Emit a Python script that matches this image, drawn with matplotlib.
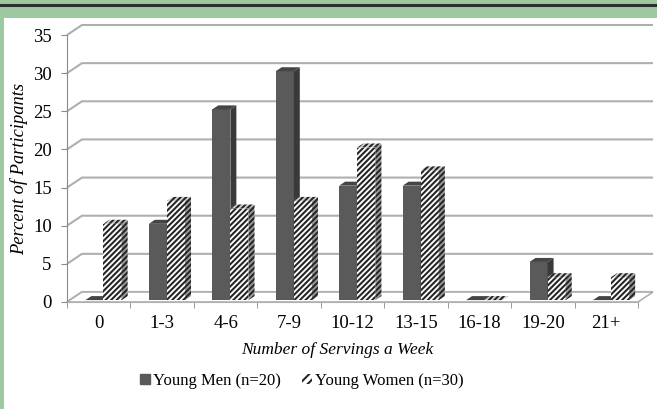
import matplotlib.pyplot as plt
import numpy as np
from matplotlib.patches import Polygon, Rectangle, Patch
from matplotlib.lines import Line2D

# === Data ===
categories = ["0", "1-3", "4-6", "7-9", "10-12", "13-15", "16-18", "19-20", "21+"]
men = [0, 10, 25, 30, 15, 15, 0, 5, 0]
women = [10, 13, 12, 13, 20, 17, 0, 3, 3]
yticks = [0, 5, 10, 15, 20, 25, 30, 35]
men_label = "Young Men (n=20)"
women_label = "Young Women (n=30)"

plt.rcParams["font.family"] = ["Liberation Serif", "DejaVu Serif"]
plt.rcParams["hatch.linewidth"] = 1.5

W, H = 657, 409
fig = plt.figure(figsize=(W / 100, H / 100), dpi=100, facecolor="#9dc9a1")

# white panel + dark top rule
fig.patches.append(Rectangle((4 / W, 0), 1, (H - 18) / H, transform=fig.transFigure,
                             facecolor="white", edgecolor="none", zorder=-10))
fig.lines.append(Line2D([0, 1], [1 - 4.5 / H] * 2, transform=fig.transFigure,
                        color="#2e2e2e", lw=2.2, zorder=-10))

# front plane of the 3d box
x0, x1, y0, y1 = 67, 638, 302, 35
ax = fig.add_axes([x0 / W, (H - y0) / H, (x1 - x0) / W, (y0 - y1) / H])
ax.set_facecolor("none")
n = len(categories)
ax.set_xlim(0, n)
ax.set_ylim(0, 35)

# depth offset of the box in data units
px_x = (x1 - x0) / n
px_y = (y0 - y1) / 35
ddx, ddy = 15 / px_x, 10 / px_y
grid_c = "#afafaf"

# walls: gridlines go diagonally from the axis, then across the back
for v in yticks:
    ax.plot([0, ddx, n + ddx], [v, v + ddy, v + ddy], color=grid_c, lw=1.5,
            clip_on=False, zorder=1, solid_capstyle="butt")
# floor
ax.add_patch(Polygon([(0, 0), (n, 0), (n + ddx, ddy), (ddx, ddy)], closed=True,
                     facecolor="white", edgecolor=grid_c, lw=1.2, clip_on=False, zorder=1))

# bars
bw = 0.285
off = 0.29
base = 0.25
bdx, bdy = 0.4 * ddx, 0.4 * ddy
idx = np.arange(n)
hatch_c = "#262626"

def draw_3d(xl, vals, front, side, top, hatch, z):
    ax.bar(xl, vals, width=bw, bottom=base, align="edge", color=front, hatch=hatch,
           edgecolor=hatch_c if hatch else front, lw=0, zorder=z, clip_on=False)
    for xs, v in zip(xl, vals):
        xr = xs + bw
        ax.add_patch(Polygon([(xr, base), (xr + bdx, base + bdy), (xr + bdx, base + v + bdy),
                              (xr, base + v)], closed=True, facecolor=side, hatch=hatch,
                             edgecolor=hatch_c if hatch else side, lw=0, zorder=z,
                             clip_on=False))
        ax.add_patch(Polygon([(xs, base + v), (xr, base + v), (xr + bdx, base + v + bdy),
                              (xs + bdx, base + v + bdy)], closed=True, facecolor=top,
                             hatch=hatch, edgecolor=hatch_c if hatch else top, lw=0,
                             zorder=z, clip_on=False))

draw_3d(idx + off, men, "#5a5a5a", "#3a3a3a", "#454545", None, 3)
draw_3d(idx + off + bw, women, "white", "#9c9c9c", "#d4d4d4", "//////", 4)

# axes styling
for s in ["top", "right"]:
    ax.spines[s].set_visible(False)
ax.spines["left"].set_color("#8a8a8a")
ax.spines["bottom"].set_color(grid_c)
ax.spines["left"].set_zorder(2)
ax.set_yticks(yticks)
ax.tick_params(axis="y", length=4, color="#8a8a8a", labelsize=13.5, pad=7)
ax.set_xticks(idx + 0.5)
ax.set_xticklabels(categories)
ax.set_xticks(np.arange(n + 1), minor=True)
ax.tick_params(axis="x", which="major", length=0, labelsize=13.5, pad=9)
ax.tick_params(axis="x", which="minor", length=4, color="#8a8a8a")

ax.set_ylabel("Percent of Participants", fontsize=13.3, style="italic")
ax.yaxis.set_label_coords((28 - x0) / (x1 - x0), 0.5)
ax.set_xlabel("Number of Servings a Week", fontsize=12.5, style="italic")
ax.xaxis.set_label_coords((337 - x0) / (x1 - x0), (y0 - 342) / (y0 - y1))

handles = [Patch(facecolor="#5a5a5a", edgecolor="#5a5a5a"),
           Patch(facecolor="white", edgecolor=hatch_c, hatch="////", lw=0)]
fig.legend(handles, [men_label, women_label], loc="center", ncol=2,
           bbox_to_anchor=(302 / W, 1 - 381 / H), frameon=False, fontsize=12,
           handlelength=0.6, handleheight=0.6, handletextpad=0.15, columnspacing=1.3)

plt.savefig("out.png", dpi=100, facecolor=fig.get_facecolor())
